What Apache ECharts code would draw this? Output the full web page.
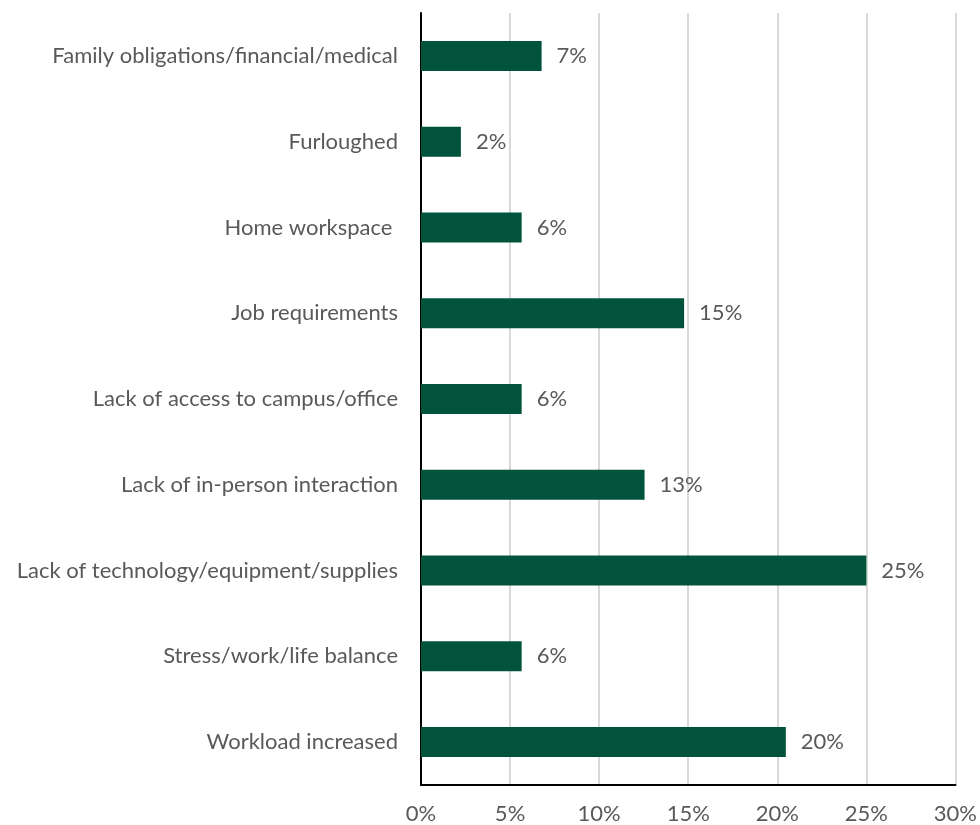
<!DOCTYPE html>
<html>
<head>
<meta charset="utf-8">
<script src="https://cdn.jsdelivr.net/npm/echarts@6/dist/echarts.min.js"></script>
<style>
  html, body { margin: 0; padding: 0; background: #ffffff; }
  #chart { width: 980px; height: 825px; }
</style>
</head>
<body>
<div id="chart"></div>
<script>
// Reasons reported, share of respondents (%)
const categories = [
  'Family obligations/financial/medical',
  'Furloughed',
  'Home workspace ',
  'Job requirements',
  'Lack of access to campus/office',
  'Lack of in-person interaction',
  'Lack of technology/equipment/supplies',
  'Stress/work/life balance',
  'Workload increased'
];
const shares = [6.77, 2.24, 5.65, 14.77, 5.65, 12.55, 25.0, 5.65, 20.48];

const textColor = '#595959';
const fontFamily = 'Lato, "Open Sans", sans-serif';
const fontSize = 22;

const chart = echarts.init(document.getElementById('chart'), null, { renderer: 'canvas' });
chart.setOption({
  animation: false,
  backgroundColor: '#ffffff',
  grid: { left: 421, right: 23, top: 13, bottom: 40, containLabel: false },
  xAxis: {
    type: 'value',
    min: 0,
    max: 30,
    interval: 5,
    axisLine: { show: true, lineStyle: { color: '#000000', width: 2 } },
    axisTick: { show: false },
    splitLine: { show: true, lineStyle: { color: '#d9d9d9', width: 2 } },
    axisLabel: {
      color: textColor,
      fontSize: fontSize,
      fontFamily: fontFamily,
      margin: 18,
      formatter: v => v + '%'
    }
  },
  yAxis: {
    type: 'category',
    data: categories,
    inverse: true,
    axisLine: { show: true, onZero: false, lineStyle: { color: '#000000', width: 2 } },
    axisTick: { show: false },
    splitLine: { show: false },
    axisLabel: {
      color: textColor,
      fontSize: fontSize,
      fontFamily: fontFamily,
      margin: 23
    }
  },
  series: [{
    type: 'bar',
    data: shares,
    barWidth: 30,
    itemStyle: { color: '#02533b' },
    label: {
      show: true,
      position: 'right',
      distance: 15,
      color: textColor,
      fontSize: fontSize,
      fontFamily: fontFamily,
      formatter: p => Math.round(p.value) + '%'
    }
  }]
});
</script>
</body>
</html>
